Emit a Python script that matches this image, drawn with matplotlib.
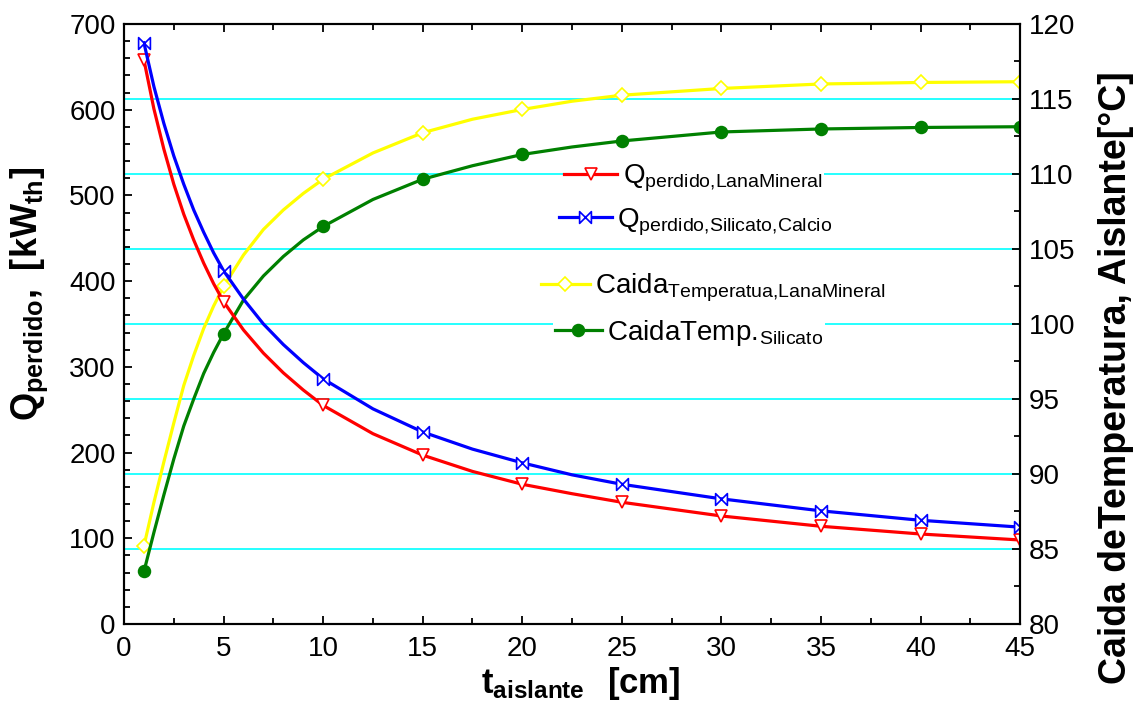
import matplotlib
matplotlib.use("Agg")
import matplotlib.pyplot as plt
from matplotlib.lines import Line2D
from matplotlib.path import Path
from matplotlib.ticker import MultipleLocator

# espesor del aislante [cm]
t_cm = [1, 1.5, 2, 2.5, 3, 3.5, 4, 4.5, 5, 6, 7, 8, 9, 10, 12.5, 15, 17.5, 20, 22.5, 25, 30, 35, 40, 45]
marker_x = [1, 5, 10, 15, 20, 25, 30, 35, 40, 45]

# calor perdido [kW_th]
q_lana = [658, 601, 554, 513, 478, 448, 421, 397, 376, 343, 316, 293, 273, 255,
          222, 197, 178, 163, 152, 142, 126, 114, 105, 98]
q_silicato = [678, 627, 584, 546, 513, 483, 457, 433, 412, 379, 350, 326, 305, 286,
              251, 224, 204, 188, 174, 163, 146, 132, 121, 113]

# caida de temperatura [°C]
temp_lana = [85.2, 88.1, 90.8, 93.4, 95.9, 97.9, 99.7, 101.2, 102.5, 104.6, 106.3, 107.6, 108.7, 109.65,
             111.4, 112.75, 113.65, 114.3, 114.85, 115.25, 115.7, 116.0, 116.1, 116.15]
temp_silicato = [83.5, 86.1, 88.6, 91.0, 93.2, 95.0, 96.7, 98.1, 99.35, 101.6, 103.2, 104.5, 105.6, 106.5,
                 108.3, 109.65, 110.55, 111.3, 111.8, 112.2, 112.8, 113.0, 113.1, 113.15]

labels = [r'$\mathregular{Q_{perdido{,}LanaMineral}}$',
          r'$\mathregular{Q_{perdido{,}Silicato{,}Calcio}}$',
          r'$\mathregular{Caida_{Temperatua{,}LanaMineral}}$',
          r'$\mathregular{CaidaTemp.\!_{Silicato}}$']

plt.rcParams['font.family'] = ['Liberation Sans', 'DejaVu Sans']
plt.rcParams['mathtext.fontset'] = 'custom'
plt.rcParams['mathtext.rm'] = 'Liberation Sans'
plt.rcParams['mathtext.bf'] = 'Liberation Sans:bold'

# marcador tipo "bowtie"
bowtie = Path([(-1, 1), (1, -1), (1, 1), (-1, -1), (-1, 1)],
              [Path.MOVETO, Path.LINETO, Path.LINETO, Path.LINETO, Path.CLOSEPOLY])

idx = [i for i, x in enumerate(t_cm) if x in marker_x]

fig = plt.figure(figsize=(11.4, 7.07), dpi=100)
ax = fig.add_axes([0.1088, 0.1174, 0.786, 0.8487])
ax2 = ax.twinx()
ax.set_zorder(2)
ax.patch.set_visible(False)
ax2.set_zorder(1)

styles = [
    dict(color='#ff0000', marker='v', mfc='white', ms=9),
    dict(color='#0000ff', marker=bowtie, mfc='white', ms=8.5),
    dict(color='#ffff00', marker='D', mfc='white', ms=7.5),
    dict(color='#008000', marker='o', mfc='#008000', ms=8.5),
]

ax.plot(t_cm, q_lana, lw=2.3, markevery=idx, mew=1.2, **styles[0])
ax.plot(t_cm, q_silicato, lw=2.3, markevery=idx, mew=1.2, **styles[1])
ax2.plot(t_cm, temp_lana, lw=2.3, markevery=idx, mew=1.2, **styles[2])
ax2.plot(t_cm, temp_silicato, lw=2.3, markevery=idx, mew=1.2, **styles[3])

ax.set_xlim(0, 45)
ax.set_ylim(0, 700)
ax2.set_ylim(80, 120)

ax.xaxis.set_major_locator(MultipleLocator(5))
ax.xaxis.set_minor_locator(MultipleLocator(2.5))
ax.yaxis.set_major_locator(MultipleLocator(100))
ax.yaxis.set_minor_locator(MultipleLocator(20))
ax2.yaxis.set_major_locator(MultipleLocator(5))
ax2.yaxis.set_minor_locator(MultipleLocator(2.5))

ax2.grid(True, axis='y', color='#00ffff', lw=1.2)

ax.tick_params(axis='x', which='both', direction='in', top=True, labelsize=20, pad=9)
ax.tick_params(axis='y', which='both', direction='in', labelsize=20, pad=6)
ax2.tick_params(axis='y', which='both', direction='in', labelsize=20, pad=6)
for a in (ax, ax2):
    a.tick_params(which='major', length=6, width=1.3)
    a.tick_params(which='minor', length=4, width=1.3)
    for s in a.spines.values():
        s.set_linewidth(1.5)

ax.set_xlabel(r'$\mathbf{t_{aislante}\ \ [cm]}$', fontsize=25, labelpad=0)
ax.xaxis.set_label_coords(0.51, -0.068)
ax.set_ylabel(r'$\mathbf{Q_{perdido},\ [kW_{th}]}$', fontsize=26)
ax.yaxis.set_label_coords(-0.083, 0.55)
ax2.set_ylabel('Caida deTemperatura, Aislante[°C]', fontsize=27, fontweight='bold')
ax2.yaxis.set_label_coords(1.087, 0.41)

# leyendas sueltas como en la figura original
pos = [(0.490, 0.743, 1.9), (0.484, 0.670, 1.9), (0.464, 0.560, 1.75), (0.479, 0.485, 1.7)]
for i, (lx, ly, hl) in enumerate(pos):
    h = Line2D([], [], lw=2.3, mew=1.2, **styles[i])
    leg = ax.legend([h], [labels[i]], loc='center left', bbox_to_anchor=(lx, ly),
                    fontsize=20, frameon=True, framealpha=1, edgecolor='none',
                    borderpad=0.05, borderaxespad=0, handlelength=hl, handletextpad=0.2,
                    numpoints=1, fancybox=False)
    ax.add_artist(leg)

fig.savefig('out.png', dpi=100)
